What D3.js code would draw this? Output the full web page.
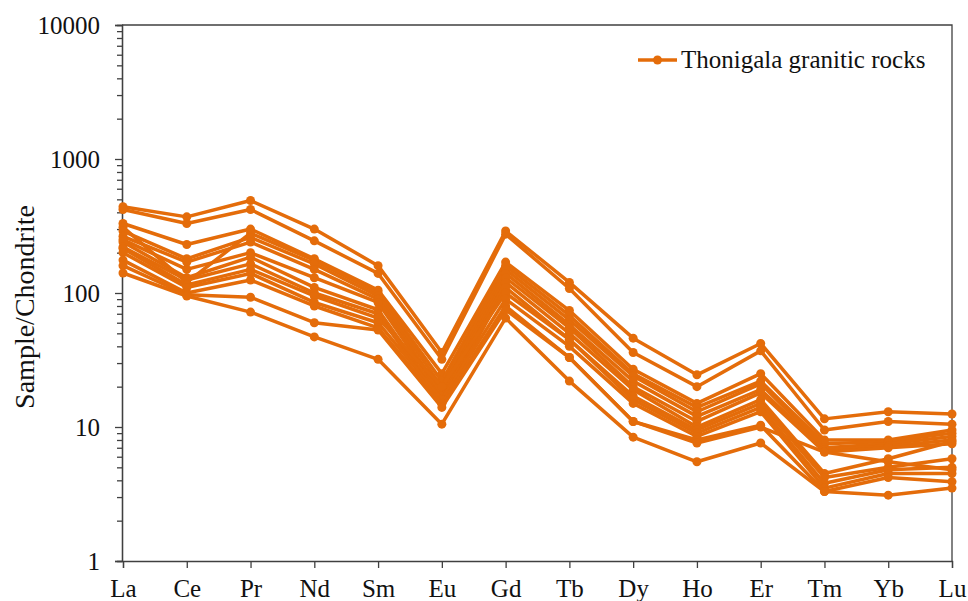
<!DOCTYPE html>
<html>
<head>
<meta charset="utf-8">
<script src="https://cdn.jsdelivr.net/npm/d3@7"></script>
<style>
body { margin: 0; background: #fff; }
text { font-family: "Liberation Serif", "Times New Roman", serif; fill: #111; }
</style>
</head>
<body>
<div id="chart"></div>
<script>
//Width and height
var w = 968;
var h = 601;
var padLeft = 122, padRight = 952, padTop = 25, padBottom = 561;

//Categories (REE)
var elements = ["La","Ce","Pr","Nd","Sm","Eu","Gd","Tb","Dy","Ho","Er","Tm","Yb","Lu"];

//Samples (chondrite normalised)
var s1  = [440, 370, 490, 300, 160, 36, 290, 120, 46, 24.5, 42, 11.5, 13, 12.5];
var s2  = [420, 330, 420, 245, 140, 32, 275, 108, 36, 20, 37, 9.5, 11, 10.5];
var s3  = [330, 230, 300, 180, 105, 25, 170, 74, 27, 15, 25, 8, 8, 9.5];
var s4  = [310, 120, 280, 175, 100, 22, 160, 68, 25, 14, 22, 7.5, 7.8, 9];
var s5  = [290, 180, 260, 165, 95, 20, 150, 63, 24, 13, 21, 7, 7.5, 8.5];
var s6  = [265, 170, 240, 150, 90, 18, 140, 58, 22, 12, 19, 6.8, 7.2, 8];
var s7  = [250, 150, 200, 130, 85, 17, 130, 55, 20, 11, 18, 6.5, 7, 7.5];
var s8  = [240, 130, 185, 110, 75, 16, 120, 50, 19, 10, 16, 4.5, 5.8, 7.8];
var s9  = [220, 125, 165, 100, 70, 15, 110, 45, 17, 9.5, 15, 4.2, 5, 5.8];
var s10 = [215, 115, 150, 95, 65, 20, 100, 45, 16, 9, 14, 3.8, 4.8, 5];
var s11 = [200, 110, 140, 85, 60, 16, 90, 40, 15, 8.5, 13, 3.5, 4.5, 4.5];
var s12 = [176, 100, 125, 80, 55, 15, 80, 33, 11, 8, 10.3, 3.3, 4.2, 3.9];
var s13 = [160, 97, 93, 60, 53, 14, 75, 33, 11, 7.6, 10, 6.5, 5.5, 4.8];
var s14 = [141, 95, 72, 47, 32, 10.5, 65, 22, 8.4, 5.5, 7.6, 3.3, 3.1, 3.5];
var samples = [s1, s2, s3, s4, s5, s6, s7, s8, s9, s10, s11, s12, s13, s14];

var yTicks = [1, 10, 100, 1000, 10000];
var seriesName = "Thonigala granitic rocks";
var orange = "#E46C0A";

//Scales
var xScale = d3.scalePoint()
.domain(elements)
.range([padLeft + 1, padRight]);

var yScale = d3.scaleLog()
.domain([1, 10000])
.range([padBottom, padTop]);

//Create svg
var svg = d3.select("#chart")
.append("svg")
.attr("width", w)
.attr("height", h);

//Minor ticks (2..9 in every decade)
var minor = [];
for (var p = 0; p < 4; p++) {
	for (var m = 2; m < 10; m++) minor.push(m * Math.pow(10, p));
}

var yAxis = d3.axisLeft(yScale)
.tickValues(yTicks)
.tickFormat(d3.format("d"))
.tickSize(7)
.tickPadding(15);

var yMinor = d3.axisLeft(yScale)
.tickValues(minor)
.tickFormat("")
.tickSize(5);

var xAxis = d3.axisBottom(xScale)
.tickSize(7)
.tickPadding(11);

//Frame (top and right)
svg.append("path")
.attr("d", "M" + padLeft + "," + padTop + "H" + padRight + "V" + padBottom)
.attr("fill", "none")
.attr("stroke", "#404040")
.attr("stroke-width", 1.3);

svg.append("g")
.attr("class", "y minor")
.attr("transform", "translate(" + padLeft + ",0)")
.call(yMinor);

svg.append("g")
.attr("class", "y axis")
.attr("transform", "translate(" + padLeft + ",0)")
.call(yAxis);

svg.append("g")
.attr("class", "x axis")
.attr("transform", "translate(0," + padBottom + ")")
.call(xAxis);

svg.selectAll(".axis path, .axis line, .minor path, .minor line")
.attr("stroke", "#404040")
.attr("stroke-width", 1.3);
svg.selectAll(".axis text")
.style("font-size", "25px")
.attr("fill", "#111");

//Y title
svg.append("text")
.attr("transform", "translate(34," + ((padTop + padBottom) / 2 + 14) + ") rotate(-90)")
.attr("text-anchor", "middle")
.style("font-size", "28px")
.text("Sample/Chondrite");

//Lines and markers
var line = d3.line()
.x(function(d, i) { return xScale(elements[i]); })
.y(function(d) { return yScale(d); });

var groups = svg.append("g")
.attr("id", "series")
.selectAll("g")
.data(samples)
.enter()
.append("g");

groups.append("path")
.attr("d", line)
.attr("fill", "none")
.attr("stroke", orange)
.attr("stroke-width", 3.5)
.attr("stroke-linejoin", "round");

groups.selectAll("circle")
.data(function(d) { return d; })
.enter()
.append("circle")
.attr("cx", function(d, i) { return xScale(elements[i]); })
.attr("cy", function(d) { return yScale(d); })
.attr("r", 4.5)
.attr("fill", orange);

//Legend
var legend = svg.append("g").attr("transform", "translate(638,60)");
legend.append("line")
.attr("x1", 0).attr("x2", 39)
.attr("y1", 0).attr("y2", 0)
.attr("stroke", orange)
.attr("stroke-width", 3.5);
legend.append("circle")
.attr("cx", 19.5).attr("cy", 0).attr("r", 4.5)
.attr("fill", orange);
legend.append("text")
.attr("x", 43).attr("y", 8)
.style("font-size", "25px")
.text(seriesName);
</script>
</body>
</html>
